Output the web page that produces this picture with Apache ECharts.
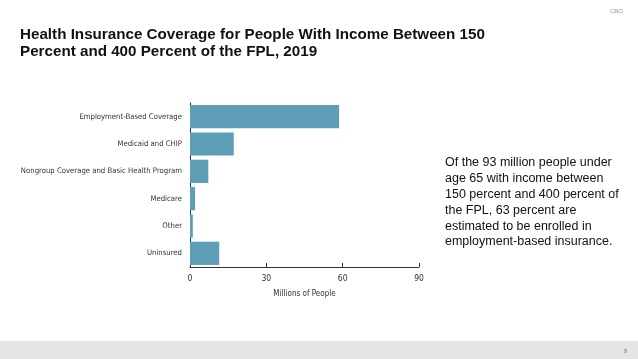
<!DOCTYPE html>
<html><head><meta charset="utf-8">
<script src="https://cdn.jsdelivr.net/npm/echarts@6/dist/echarts.min.js"></script>
<style>html,body{margin:0;padding:0;background:#fff}#c{width:638px;height:359px}</style>
</head><body><div id="c"></div>
<script>
const categories = ["Employment-Based Coverage","Medicaid and CHIP","Nongroup Coverage and Basic Health Program","Medicare","Other","Uninsured"];
const values = [58.6, 17.2, 7.2, 2.0, 1.1, 11.5];
const xTicks = [0, 30, 60, 90];
const titleLines = ["Health Insurance Coverage for People With Income Between 150","Percent and 400 Percent of the FPL, 2019"];
const noteText = ["Of the 93 million people under","age 65 with income between","150 percent and 400 percent of","the FPL, 63 percent are","estimated to be enrolled in","employment-based insurance."];

const chart = echarts.init(document.getElementById('c'), null, {renderer:'canvas'});
const narrow = '"DejaVu Sans Condensed",sans-serif';
chart.setOption({
  animation:false,
  backgroundColor:'#fff',
  title:[{
    text: titleLines.join('\n'), left:15, top:21,
    textStyle:{fontFamily:'"Liberation Sans",Arial,sans-serif',fontWeight:'bold',fontSize:15.2,color:'#111',lineHeight:17.5}
  },{
    text:'CBO', right:10, top:3,
    textStyle:{fontFamily:'"Liberation Sans",Arial,sans-serif',fontSize:6,color:'#999',fontWeight:'normal'}
  },{
    text: noteText.join('\n'), left:440, top:150,
    textStyle:{fontFamily:'"Liberation Sans",Arial,sans-serif',fontSize:12.5,color:'#111',fontWeight:'normal',lineHeight:15.8}
  },{
    text:'9', right:6, top:343,
    textStyle:{fontFamily:'"Liberation Sans",Arial,sans-serif',fontSize:6,color:'#777',fontWeight:'normal'}
  }],
  graphic:[{type:'rect',left:0,top:341,shape:{width:638,height:18},style:{fill:'#e4e4e4'},z:-1}],
  grid:{left:190, right:219, top:103, bottom:92, containLabel:false, outerBoundsMode:'none'},
  xAxis:{
    type:'value', min:0, max:90, interval:30,
    name:'Millions of People', nameLocation:'middle', nameGap:23,
    nameTextStyle:{fontFamily:narrow,fontSize:8,color:'#333'},
    axisLine:{show:true,lineStyle:{color:'#333',width:1}},
    axisTick:{show:true,inside:true,length:4,lineStyle:{color:'#333'}},
    axisLabel:{fontFamily:narrow,fontSize:8.5,color:'#333',margin:7,
      formatter:v=> xTicks.includes(v)? String(v):''},
    splitLine:{show:false}
  },
  yAxis:{
    type:'category', data:categories, inverse:true,
    axisLine:{show:true,lineStyle:{color:'#333',width:1}},
    axisTick:{show:false},
    axisLabel:{fontFamily:narrow,fontSize:7.7,color:'#333',margin:8}
  },
  series:[{
    type:'bar', data:values, barCategoryGap:'15%',
    itemStyle:{color:'#5e9db6'}
  }]
});
</script></body></html>
